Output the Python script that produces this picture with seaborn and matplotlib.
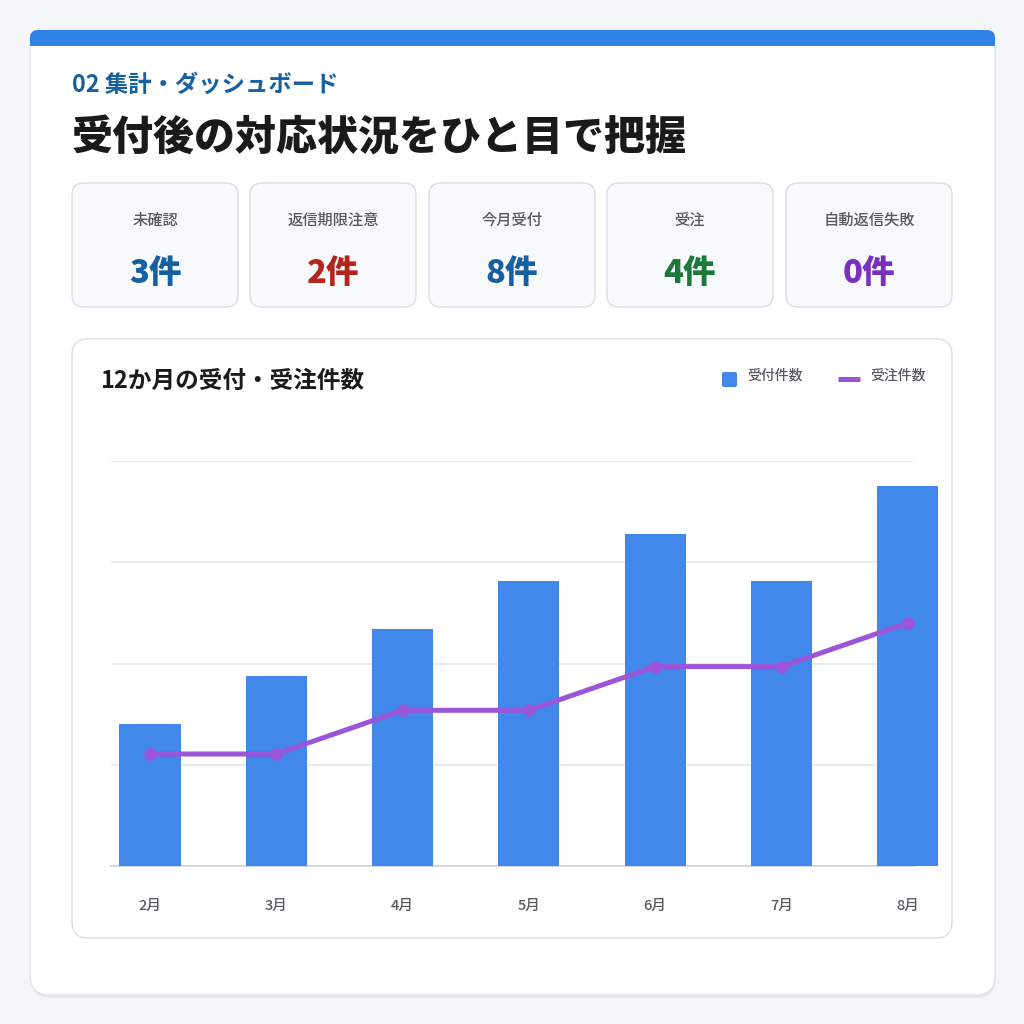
import numpy as np
import pandas as pd
import matplotlib
matplotlib.use("Agg")
import matplotlib.pyplot as plt
from matplotlib.patches import FancyBboxPatch, Rectangle
from matplotlib.lines import Line2D
import seaborn as sns

# ---- data ----
months = ["2月", "3月", "4月", "5月", "6月", "7月", "8月"]
received = [3, 4, 5, 6, 7, 6, 8]          # 受付件数 (bars)
orders = [1, 1, 2, 2, 3, 3, 4]            # 受注件数 (line)
kpi_labels = ["未確認", "返信期限注意", "今月受付", "受注", "自動返信失敗"]
kpi_values = ["3件", "2件", "8件", "4件", "0件"]
kpi_colors = ["#16609f", "#b3261e", "#16609f", "#1b7a3a", "#7b2fbe"]
subtitle = "02 集計・ダッシュボード"
title = "受付後の対応状況をひと目で把握"
chart_title = "12か月の受付・受注件数"
legend_labels = ["受付件数", "受注件数"]

BAR_C = "#4287ea"
LINE_C = "#9b55d8"

sns.set_theme(style="white")
plt.rcParams["font.family"] = ["Noto Sans CJK JP", "DejaVu Sans"]

W = H = 1024
fig = plt.figure(figsize=(10.24, 10.24), dpi=100)
fig.patch.set_facecolor("#f4f6fa")

bg = fig.add_axes([0, 0, 1, 1])
bg.set_xlim(0, W)
bg.set_ylim(H, 0)
bg.axis("off")
bg.set_zorder(0)

def rbox(x0, y0, x1, y1, r, fc, ec="none", lw=0, z=1):
    p = FancyBboxPatch((x0 + r, y0 + r), (x1 - x0) - 2 * r, (y1 - y0) - 2 * r,
                       boxstyle=f"round,pad={r}", fc=fc, ec=ec, lw=lw, zorder=z,
                       mutation_aspect=1)
    bg.add_patch(p)
    return p

# outer card shadow + card
rbox(31, 33, 996, 998, 20, "#e6e9ef", z=0.5)
rbox(30, 30, 995, 995, 20, "#ffffff", ec="#dfe3ea", lw=0.8, z=1)
# top blue strip
rbox(30, 30, 995, 46, 8, "#3282e6", z=2)
bg.add_patch(Rectangle((30, 38), 965, 8, fc="#3282e6", ec="none", zorder=2))

bg.text(72, 85, subtitle, fontsize=16.8, fontweight="bold", color="#16609f",
        va="center", ha="left", zorder=3)
bg.text(72, 139, title, fontsize=29.5, fontweight="heavy", color="#1a1a1a",
        va="center", ha="left", zorder=3)

# KPI cards
xs = [72, 250, 429, 607, 786]
cw = 166
for x0, lab, val, col in zip(xs, kpi_labels, kpi_values, kpi_colors):
    rbox(x0, 183, x0 + cw, 307, 12, "#f7f9fc", ec="#d9dee6", lw=1.0, z=2)
    bg.text(x0 + cw / 2, 220, lab, fontsize=11, fontweight="medium", color="#555a62",
            ha="center", va="center", zorder=3)
    bg.text(x0 + cw / 2, 273, val, fontsize=23.5, fontweight="heavy", color=col,
            ha="center", va="center", zorder=3)

# chart card
rbox(72, 339, 952, 938, 16, "#ffffff", ec="#d9dee6", lw=1.0, z=2)
bg.text(100, 381, chart_title, fontsize=17, fontweight="bold", color="#1a1a1a",
        ha="left", va="center", zorder=3)

# legend
rbox(722, 372, 737, 387, 2, BAR_C, z=3)
bg.text(747, 375, legend_labels[0], fontsize=10, fontweight="medium", color="#555a62",
        ha="left", va="center", zorder=3)
bg.add_line(Line2D([838, 860], [379, 379], color=LINE_C, lw=3.6,
                   solid_capstyle="butt", zorder=3))
bg.text(870, 375, legend_labels[1], fontsize=10, fontweight="medium", color="#555a62",
        ha="left", va="center", zorder=3)

# ---- chart axes ----
L, R, T, B = 111, 914, 461, 866
ax = fig.add_axes([L / W, (H - B) / H, (R - L) / W, (B - T) / H])
ax.set_zorder(5)
ax.patch.set_alpha(0)

df = pd.DataFrame({"month": months, "received": received, "orders": orders})
sns.barplot(data=df, x="month", y="received", color=BAR_C, saturation=1,
            width=0.483, ax=ax, zorder=3)
for p in ax.patches:
    p.set_clip_on(False)
    p.set_edgecolor("none")

step = 126.3
x_lo = -(150 - L) / step
x_hi = (R - 150) / step
bar_top = (B - T) / 47.5
ax.set_xlim(x_lo, x_hi)
ax.set_ylim(0, bar_top)
ax.set_yticks(np.linspace(0, bar_top, 5))
ax.set_yticklabels([])
ax.yaxis.grid(True, color="#e3e7ee", lw=1.2)
ax.set_axisbelow(True)
for s in ["top", "right", "left"]:
    ax.spines[s].set_visible(False)
ax.spines["bottom"].set_color("#d3d9e2")
ax.spines["bottom"].set_linewidth(1.4)
ax.tick_params(axis="x", length=0, pad=24, labelsize=10.5, labelcolor="#555a62")
for t in ax.get_xticklabels():
    t.set_fontweight("medium")
ax.tick_params(axis="y", length=0)
ax.set_xlabel("")
ax.set_ylabel("")

ax2 = ax.twinx()
xpos = np.arange(len(months))
sns.lineplot(x=xpos, y=orders, ax=ax2, color=LINE_C, lw=3.6, marker="o",
             markersize=9, markeredgewidth=0, zorder=4)
zero_px = 797.7
unit = 43.7
ax2.set_ylim(-(B - zero_px) / unit, (zero_px - T) / unit)
ax2.set_xlim(x_lo, x_hi)
ax2.set_yticks([])
for s in ax2.spines.values():
    s.set_visible(False)
ax2.set_ylabel("")

fig.savefig("out.png", dpi=100, facecolor=fig.get_facecolor())
